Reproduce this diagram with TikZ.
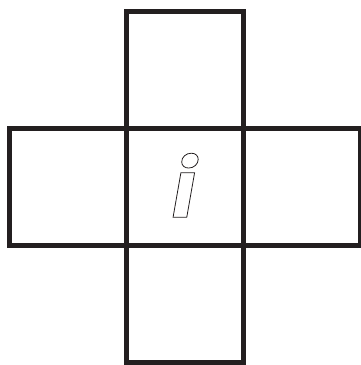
\documentclass[tikz,border=0pt]{standalone}
\usepackage{fontspec}
\newfontfamily\glyphfont{Poppins}
\definecolor{ink}{HTML}{231F20}
\tikzset{
  cell/.style={draw=ink, line width=5pt, minimum size=117pt, inner sep=0pt, outer sep=0pt},
  letter/.style={inner sep=0pt, outer sep=0pt, text=ink, font=\glyphfont\bfseries\itshape\fontsize{80}{80}\selectfont}
}
\begin{document}
\begin{tikzpicture}[x=1pt,y=-1pt]
\useasboundingbox (0,0) rectangle (361,365);
\node[cell] (c) at (184.5,186.5) {};
\node[cell] (t) at (184.5,69.5) {};
\node[cell] (b) at (184.5,303.5) {};
\node[cell] (l) at (67.5,186.5) {};
\node[cell] (r) at (301.5,186.5) {};
\node[letter, anchor=base] (i) at (184,217.3) {\special{pdf:literal direct 1 Tr 0.8 w}i\special{pdf:literal direct 0 Tr}};
\end{tikzpicture}
\end{document}
